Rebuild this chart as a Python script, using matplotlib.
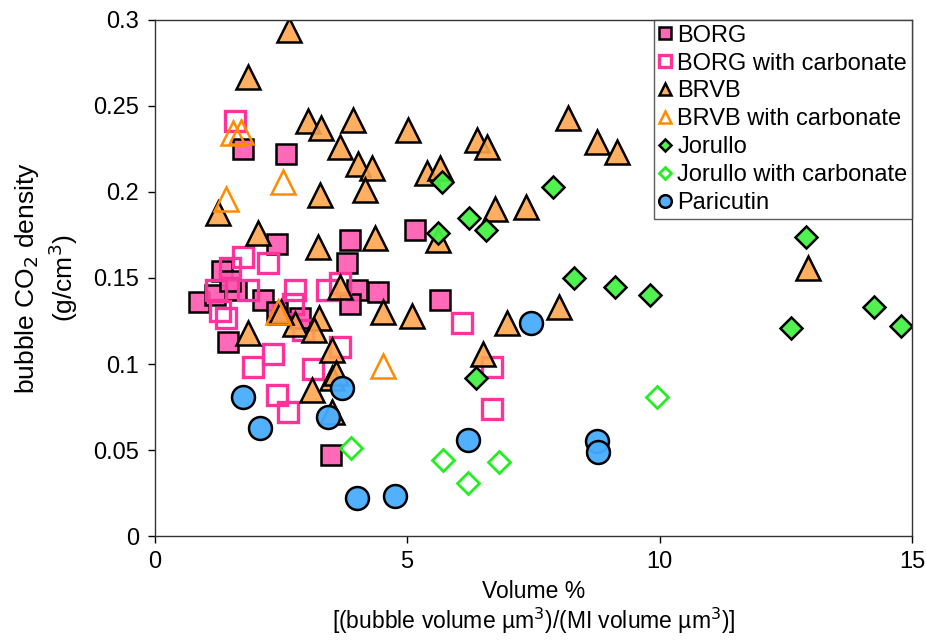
import matplotlib
matplotlib.use("Agg")
import matplotlib.pyplot as plt

plt.rcParams['font.family'] = ['Liberation Sans', 'DejaVu Sans']

# BORG (filled squares)
borg_x = [1.74, 2.6, 2.42, 3.86, 3.80, 4.0, 4.42, 3.86, 0.87, 1.33, 1.45, 2.14, 1.62,
          2.42, 2.87, 5.15, 5.65, 3.5, 1.2, 1.5]
borg_y = [0.225, 0.222, 0.170, 0.172, 0.159, 0.143, 0.142, 0.135, 0.136, 0.154, 0.113,
          0.137, 0.143, 0.130, 0.127, 0.178, 0.137, 0.047, 0.140, 0.148]

# BORG with carbonate (open squares)
borgc_x = [1.6, 1.74, 2.24, 1.49, 1.22, 1.42, 1.84, 1.29, 2.77, 2.73, 2.93, 3.41, 3.67,
           2.34, 1.94, 3.13, 3.67, 2.42, 2.64, 6.08, 6.68, 6.68]
borgc_y = [0.241, 0.162, 0.159, 0.156, 0.143, 0.127, 0.143, 0.131, 0.143, 0.135, 0.120,
           0.143, 0.147, 0.106, 0.098, 0.097, 0.110, 0.082, 0.072, 0.124, 0.098, 0.074]

# BRVB (filled triangles)
brvb_x = [2.67, 1.84, 3.03, 3.29, 3.92, 3.67, 4.02, 4.30, 4.16, 5.01, 1.25, 2.04, 3.27,
          4.36, 3.23, 3.67, 3.25, 2.77, 1.84, 4.52, 5.09, 3.51, 3.11, 3.51, 3.51, 3.6,
          6.38, 6.58, 8.18, 8.76, 9.15, 5.39, 5.65, 6.74, 7.35, 5.61, 6.97, 8.0, 6.5,
          12.94, 2.5, 3.15]
brvb_y = [0.294, 0.267, 0.241, 0.237, 0.242, 0.226, 0.216, 0.214, 0.201, 0.236, 0.188,
          0.176, 0.198, 0.173, 0.168, 0.145, 0.127, 0.123, 0.118, 0.130, 0.128, 0.108,
          0.085, 0.092, 0.072, 0.095, 0.230, 0.226, 0.243, 0.229, 0.223, 0.211, 0.214,
          0.190, 0.191, 0.172, 0.124, 0.133, 0.106, 0.156, 0.130, 0.120]

# BRVB with carbonate (open triangles)
brvbc_x = [1.55, 1.72, 2.54, 1.41, 2.44, 4.52]
brvbc_y = [0.234, 0.235, 0.206, 0.196, 0.130, 0.099]

# Jorullo (filled diamonds)
jor_x = [5.69, 7.89, 5.61, 6.22, 6.56, 8.30, 9.11, 9.81, 6.36, 12.90, 12.60, 14.25, 14.78]
jor_y = [0.206, 0.203, 0.176, 0.185, 0.178, 0.150, 0.145, 0.140, 0.092, 0.174, 0.121,
         0.133, 0.122]

# Jorullo with carbonate (open diamonds)
jorc_x = [3.88, 5.71, 6.20, 6.82, 9.95]
jorc_y = [0.051, 0.044, 0.031, 0.043, 0.081]

# Paricutin (circles)
par_x = [1.74, 2.08, 4.0, 4.76, 3.43, 3.71, 7.45, 6.2, 8.76, 8.78]
par_y = [0.081, 0.063, 0.022, 0.023, 0.069, 0.086, 0.124, 0.056, 0.055, 0.049]

fig = plt.figure(figsize=(9.26, 6.42), dpi=100)
ax = fig.add_axes([0.167, 0.165, 0.818, 0.804])

ax.plot(borg_x, borg_y, 's', ms=15, mfc=(1.0, 0.35, 0.69, 0.9), mec='black', mew=1.8,
        label='BORG')
ax.plot(borgc_x, borgc_y, 's', ms=15, mfc='none', mec='#ff3399', mew=2.4,
        label='BORG with carbonate')
ax.plot(brvb_x, brvb_y, '^', ms=17, mfc=(1.0, 0.65, 0.3, 0.9), mec='black', mew=1.8,
        label='BRVB')
ax.plot(brvbc_x, brvbc_y, '^', ms=17, mfc='none', mec='#ff8c00', mew=1.8,
        label='BRVB with carbonate')
ax.plot(jor_x, jor_y, 'D', ms=11.5, mfc=(0.27, 0.95, 0.27, 0.95), mec='black', mew=1.8,
        label='Jorullo')
ax.plot(jorc_x, jorc_y, 'D', ms=11.5, mfc='none', mec='#22ee22', mew=2.0,
        label='Jorullo with carbonate')
ax.plot(par_x, par_y, 'o', ms=16.5, mfc=(0.28, 0.68, 1.0, 0.95), mec='black', mew=1.8,
        label='Paricutin')

ax.set_xlim(0, 15)
ax.set_ylim(0, 0.3)
ax.set_xticks([0, 5, 10, 15])
ax.set_yticks([0, 0.05, 0.1, 0.15, 0.2, 0.25, 0.3])
ax.set_yticklabels(['0', '0.05', '0.1', '0.15', '0.2', '0.25', '0.3'])
ax.tick_params(direction='out', length=5, width=1, labelsize=17, pad=6)
for s in ax.spines.values():
    s.set_linewidth(1)
    s.set_color('#333333')

ax.set_xlabel('Volume %\n[(bubble volume µm$^3$)/(MI volume µm$^3$)]', fontsize=16.5,
              labelpad=5, linespacing=1.1)
ax.set_ylabel('bubble CO$_2$ density\n(g/cm$^3$)', fontsize=19, labelpad=10,
              linespacing=1.2)

leg = ax.legend(loc='upper right', fontsize=17, frameon=True, fancybox=False,
                borderpad=0.2, labelspacing=0.25, handlelength=0.6, handletextpad=0.2,
                borderaxespad=0.0, markerscale=0.55)
leg.get_frame().set_edgecolor('#333333')
leg.get_frame().set_linewidth(1)

fig.savefig('out.png', dpi=100)
